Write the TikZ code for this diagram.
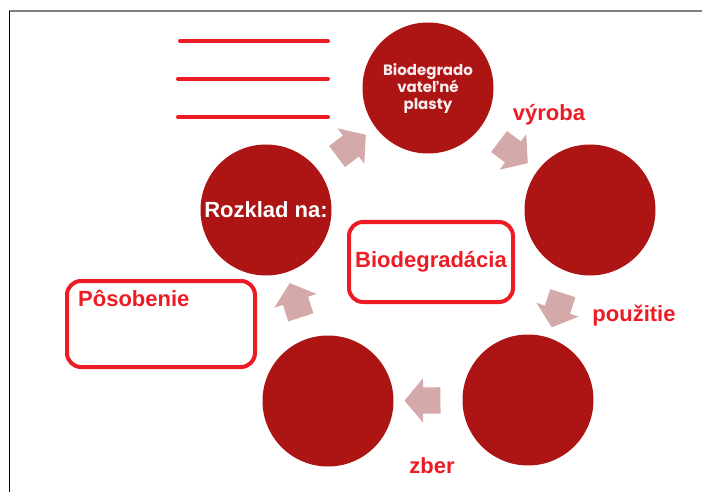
\documentclass[tikz,border=0pt]{standalone}
\usepackage{fontspec}
\setmainfont{Liberation Sans}
\newfontfamily\roundfont{Poppins}
\usetikzlibrary{calc, positioning, shapes.arrows}

\definecolor{cyclered}{HTML}{AD1414}
\definecolor{arrowpink}{HTML}{D4A9AA}
\definecolor{labelred}{HTML}{ED1C24}
\definecolor{softwhite}{HTML}{F8ECEE}

\begin{document}
\begin{tikzpicture}[x=1pt, y=-1pt,
    cyclecircle/.style={circle, fill=cyclered, minimum size=131pt, inner sep=0pt},
    cyclearrow/.style={single arrow, fill=arrowpink, minimum height=36pt,
        inner xsep=0pt, inner ysep=13pt,
        single arrow head extend=9pt, single arrow tip angle=100},
    redlabel/.style={text=labelred, inner sep=0pt, font=\fontsize{22}{26}\selectfont\bfseries},
    redbox/.style={draw=labelred, line width=4pt, rounded corners=14pt},
    blankline/.style={draw=labelred, line width=4pt, line cap=round}
]
    \useasboundingbox (0,0) rectangle (702,492);

    % ramik obrazka
    \draw[gray, line width=2pt] (9,11) -- (702,11);
    \draw[black, line width=1pt] (9,11) -- (9,492);

    % kruhy cyklu
    \node[cyclecircle, align=center, text=softwhite, font=\roundfont\fontsize{15}{17}\selectfont\bfseries]
        (plasty) at (428,88) {Biodegrado\\vateľné\\plasty};
    \node[cyclecircle] (vyrobok) at (590,210) {};
    \node[cyclecircle] (pouzity) at (528,400) {};
    \node[cyclecircle] (zbery) at (328,401) {};
    \node[cyclecircle, text=white, font=\fontsize{22}{26}\selectfont\bfseries]
        (rozklad) at (266,210) {Rozklad na:};

    % sipky medzi kruhmi
    \foreach \from/\to in {rozklad/plasty, plasty/vyrobok, vyrobok/pouzity, pouzity/zbery, zbery/rozklad}
        \path let \p1 = ($(\to)-(\from)$), \n1 = {atan2(\y1,\x1)} in
            node[cyclearrow, rotate=\n1] at ($(\from)!0.5!(\to)$) {};

    % popisy krokov
    \node[redlabel] (vyroba) at (549,115) {výroba};
    \node[redlabel] (pouzitie) at (634,316) {použitie};
    \node[redlabel] (zber) at (432,466) {zber};

    % ramceky
    \node[redbox, redlabel, minimum width=164pt, minimum height=80pt] (biodeg) at (431,262) {Biodegradácia};
    \node[redbox, minimum width=188pt, minimum height=86pt] (posobenie) at (161,324) {};
    \node[redlabel, anchor=west] (posobenietext) at ($(posobenie.north west)+(13,19)$) {Pôsobenie};

    % prazdne riadky na doplnenie
    \foreach \y/\xs in {41/180, 79/178, 117/178}
        \draw[blankline] (\xs,\y) -- (328,\y);
\end{tikzpicture}
\end{document}
